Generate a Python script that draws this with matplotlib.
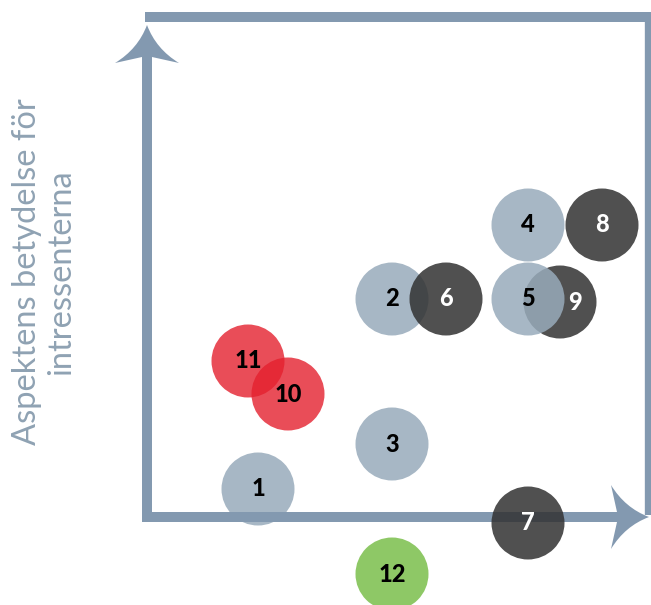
import numpy as np
import matplotlib
matplotlib.use("Agg")
import matplotlib.pyplot as plt
from matplotlib.patches import Circle, PathPatch
from matplotlib.path import Path

# bubble data (x = prioritering, y = betydelse for intressenterna)
labels = ["9", "1", "2", "3", "4", "5", "6", "7", "8", "10", "11", "12"]
xs = [41.3, 11.1, 24.5, 24.5, 38.1, 38.1, 29.9, 38.1, 45.5, 14.1, 10.1, 24.5]
ys = [21.5, 2.8, 21.8, 7.3, 29.2, 21.8, 21.8, -0.6, 29.2, 12.3, 15.6, -5.7]
groups = ["dark", "grey", "grey", "grey", "grey", "grey", "dark", "dark", "dark", "red", "red", "green"]

ylabel = "Aspektens betydelse för\nintressenterna"

face = {"grey": ("#98abbb", 0.85), "dark": ("#333333", 0.86),
        "red": ("#e4202e", 0.8), "green": ("#8ec866", 1.0)}
txtcol = {"grey": "black", "dark": "white", "red": "black", "green": "black"}
axcol = "#8399b0"

fig = plt.figure(figsize=(6.51, 6.05), dpi=100)
ax = fig.add_axes([0, 0, 1, 1])
ax.set_xlim(-14.7, 50.4)
ax.set_ylim(-8.8, 51.7)
ax.axis("off")

# frame + axes
ax.plot([-0.2, 50.4], [50.0, 50.0], color=axcol, lw=7.2, solid_capstyle="butt", zorder=2)
ax.plot([50.2, 50.2], [50.2, 0.2], color=axcol, lw=6, solid_capstyle="butt", zorder=2)
ax.plot([0, 0], [-0.5, 46.5], color=axcol, lw=7.2, solid_capstyle="butt", zorder=2)
ax.plot([-0.5, 47.0], [0, 0], color=axcol, lw=7.2, solid_capstyle="butt", zorder=2)

def arrow_head(tip, direction):
    # concave arrow head, defined pointing up then rotated
    pts = np.array([[0, 0], [-0.9, -2.4], [-3.2, -3.8], [-0.5, -3.2], [0.5, -3.2],
                    [3.2, -3.8], [0.9, -2.4], [0, 0]])
    if direction == "right":
        pts = np.column_stack([pts[:, 1], -pts[:, 0]])
    pts = pts + np.array(tip)
    codes = [Path.MOVETO, Path.CURVE3, Path.CURVE3, Path.LINETO, Path.LINETO,
             Path.LINETO, Path.CURVE3, Path.CURVE3]
    ax.add_patch(PathPatch(Path(pts, codes), facecolor=axcol, edgecolor="none", zorder=2))

arrow_head((0, 49.2), "up")
arrow_head((50.2, 0), "right")

# bubbles
for lab, x, y, g in zip(labels, xs, ys, groups):
    fc, a = face[g]
    z = 1 if lab == "1" else 3
    ax.add_patch(Circle((x, y), 3.65, facecolor=fc, alpha=a, edgecolor="none", zorder=z))
for lab, x, y, g in zip(labels, xs, ys, groups):
    dx = 1.5 if lab == "9" else 0
    ax.text(x + dx, y, lab, ha="center", va="center", fontsize=17, fontweight="black",
            family="Lato", color=txtcol[g], zorder=5)

ax.text(-10.3, 24.5, ylabel, rotation=90, ha="center", va="center", multialignment="center",
        fontsize=23.5, family="Lato", color="#8fa2b3", linespacing=1.2)

fig.savefig("out.png", dpi=100)
